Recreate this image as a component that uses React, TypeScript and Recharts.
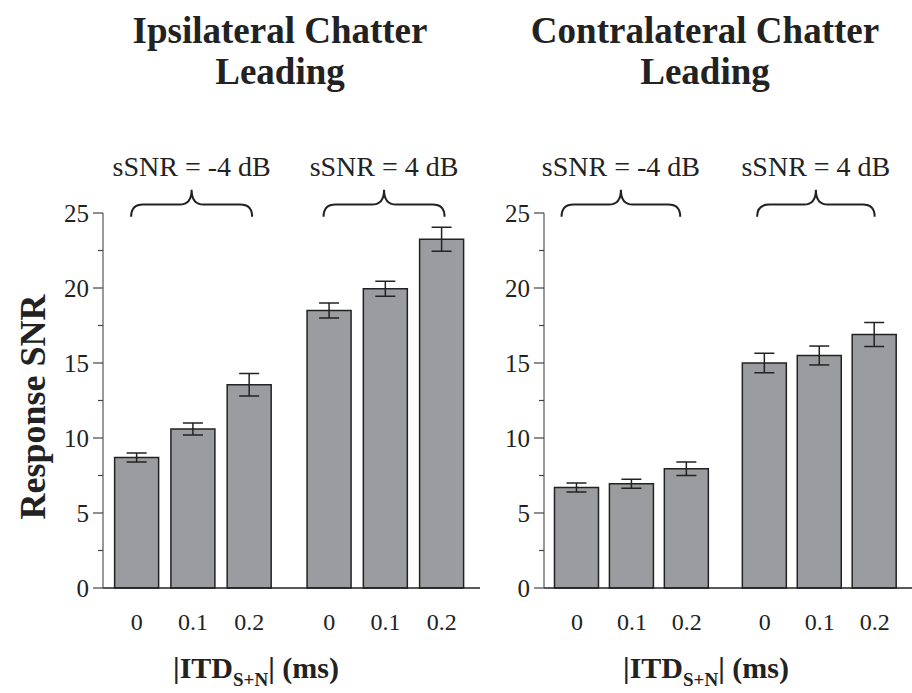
import React from "react";
import { BarChart, Bar, XAxis, YAxis, ErrorBar, ReferenceArea } from "recharts";

// ITD values per bar, grouped by sSNR
const itdLabels = ["0", "0.1", "0.2", "0", "0.1", "0.2"];
const snrLabels = ["sSNR = -4 dB", "sSNR = 4 dB"];
const yTicks = [0, 2.5, 5, 7.5, 10, 12.5, 15, 17.5, 20, 22.5, 25];

// Ipsilateral chatter leading
const ipsiMeans = [8.7, 10.6, 13.55, 18.5, 19.95, 23.25];
const ipsiErrors = [0.3, 0.4, 0.75, 0.5, 0.5, 0.8];

// Contralateral chatter leading
const contraMeans = [6.7, 6.95, 7.95, 15.0, 15.5, 16.9];
const contraErrors = [0.3, 0.3, 0.45, 0.65, 0.63, 0.8];

const SERIF = '"Liberation Serif", "Times New Roman", serif';
const INK = "#222";
const BAR_FILL = "#9b9c9f";
const GROUP_GAP = 0.42; // extra space between the two sSNR groups
const TICK_SIZE = 10;
const TICK_MARGIN = 4;

const slotOf = (i: number) => i + (i >= 3 ? GROUP_GAP : 0);
const slots = itdLabels.map((_, i) => slotOf(i));

function buildRows(means: number[], errors: number[]) {
  return means.map((m, i) => ({ slot: slotOf(i), itd: itdLabels[i], snr: m, err: errors[i] }));
}

function YTick(props: any) {
  const { x, y, payload } = props;
  const axisX = x + TICK_SIZE + TICK_MARGIN;
  const major = payload.value % 5 === 0;
  return (
    <g>
      <line x1={axisX - (major ? 10 : 5)} x2={axisX} y1={y} y2={y} stroke="#444" strokeWidth={1.2} />
      {major && (
        <text x={axisX - 14} y={y} dy="0.34em" textAnchor="end" fontSize={25} fontFamily={SERIF} fill={INK}>
          {payload.value}
        </text>
      )}
    </g>
  );
}

function XTick(props: any) {
  const { x, y, index } = props;
  return (
    <text x={x} y={y + 42} textAnchor="middle" fontSize={24} fontFamily={SERIF} fill={INK}>
      {itdLabels[index]}
    </text>
  );
}

// curly brace over a group of bars, with its sSNR label
function Brace(props: any) {
  const { x, y, width, height, text } = props;
  const mid = x + width / 2;
  const bottom = y + height;
  const flat = y + height * 0.55;
  const r = 12;
  const d =
    `M${x},${bottom} Q${x},${flat} ${x + r},${flat} L${mid - r},${flat} ` +
    `Q${mid},${flat} ${mid},${y} Q${mid},${flat} ${mid + r},${flat} ` +
    `L${x + width - r},${flat} Q${x + width},${flat} ${x + width},${bottom}`;
  return (
    <g>
      <path d={d} fill="none" stroke={INK} strokeWidth={2} />
      <text x={mid} y={y - 14} textAnchor="middle" fontSize={28} fontFamily={SERIF} fill={INK}>
        {text}
      </text>
    </g>
  );
}

interface PanelProps {
  left: number;
  width: number;
  means: number[];
  errors: number[];
  braces: [number, number][];
}

function Panel({ left, width, means, errors, braces }: PanelProps) {
  const rows = buildRows(means, errors);
  return (
    <div style={{ position: "absolute", left, top: 0 }}>
      <BarChart width={width} height={693} data={rows} margin={{ top: 213, right: 0, bottom: 45, left: 0 }}>
        <XAxis
          dataKey="slot"
          type="number"
          domain={[-0.6, 6.1]}
          ticks={slots}
          interval={0}
          tickLine={false}
          tickSize={0}
          tickMargin={0}
          height={60}
          axisLine={{ stroke: INK, strokeWidth: 1.5 }}
          tick={<XTick />}
        />
        <YAxis
          type="number"
          domain={[0, 25]}
          ticks={yTicks}
          interval={0}
          width={103}
          tickLine={false}
          tickSize={TICK_SIZE}
          tickMargin={TICK_MARGIN}
          axisLine={{ stroke: "#555", strokeWidth: 1.2 }}
          tick={<YTick />}
        />
        {braces.map(([a, b], k) => (
          <ReferenceArea
            key={k}
            x1={a}
            x2={b}
            y1={24.75}
            y2={26.55}
            ifOverflow="visible"
            shape={(p: any) => <Brace {...p} text={snrLabels[k]} />}
          />
        ))}
        <Bar
          dataKey="snr"
          fill={BAR_FILL}
          stroke={INK}
          strokeWidth={1.5}
          barSize={44}
          isAnimationActive={false}
        >
          <ErrorBar dataKey="err" width={10} stroke={INK} strokeWidth={1.5} direction="y" />
        </Bar>
      </BarChart>
    </div>
  );
}

function AxisTitle({ cx }: { cx: number }) {
  return (
    <text x={cx} y={678} textAnchor="middle" fontSize={30} fontWeight="bold" fontFamily={SERIF} fill={INK}>
      |ITD
      <tspan fontSize={19} dy={8}>S+N</tspan>
      <tspan dy={-8}>| (ms)</tspan>
    </text>
  );
}

export default function App() {
  return (
    <div style={{ position: "absolute", left: 0, top: 0, width: 912, height: 693, background: "#fff", overflow: "hidden" }}>
      <Panel left={0} width={480} means={ipsiMeans} errors={ipsiErrors} braces={[[-0.1, 2.05], [3.32, 5.47]]} />
      <Panel left={441} width={471} means={contraMeans} errors={contraErrors} braces={[[-0.28, 1.88], [3.28, 5.42]]} />
      <svg width={912} height={693} style={{ position: "absolute", left: 0, top: 0, pointerEvents: "none" }}>
        <g fontFamily={SERIF} fontWeight="bold" fontSize={37} fill={INK} textAnchor="middle">
          <text x={280} y={43}>Ipsilateral Chatter</text>
          <text x={280} y={84}>Leading</text>
          <text x={705} y={43}>Contralateral Chatter</text>
          <text x={705} y={84}>Leading</text>
        </g>
        <text
          transform="translate(33,407) rotate(-90)"
          textAnchor="middle"
          dominantBaseline="central"
          fontSize={36}
          fontWeight="bold"
          fontFamily={SERIF}
          fill={INK}
        >
          Response SNR
        </text>
        <AxisTitle cx={256} />
        <AxisTitle cx={706} />
      </svg>
    </div>
  );
}
